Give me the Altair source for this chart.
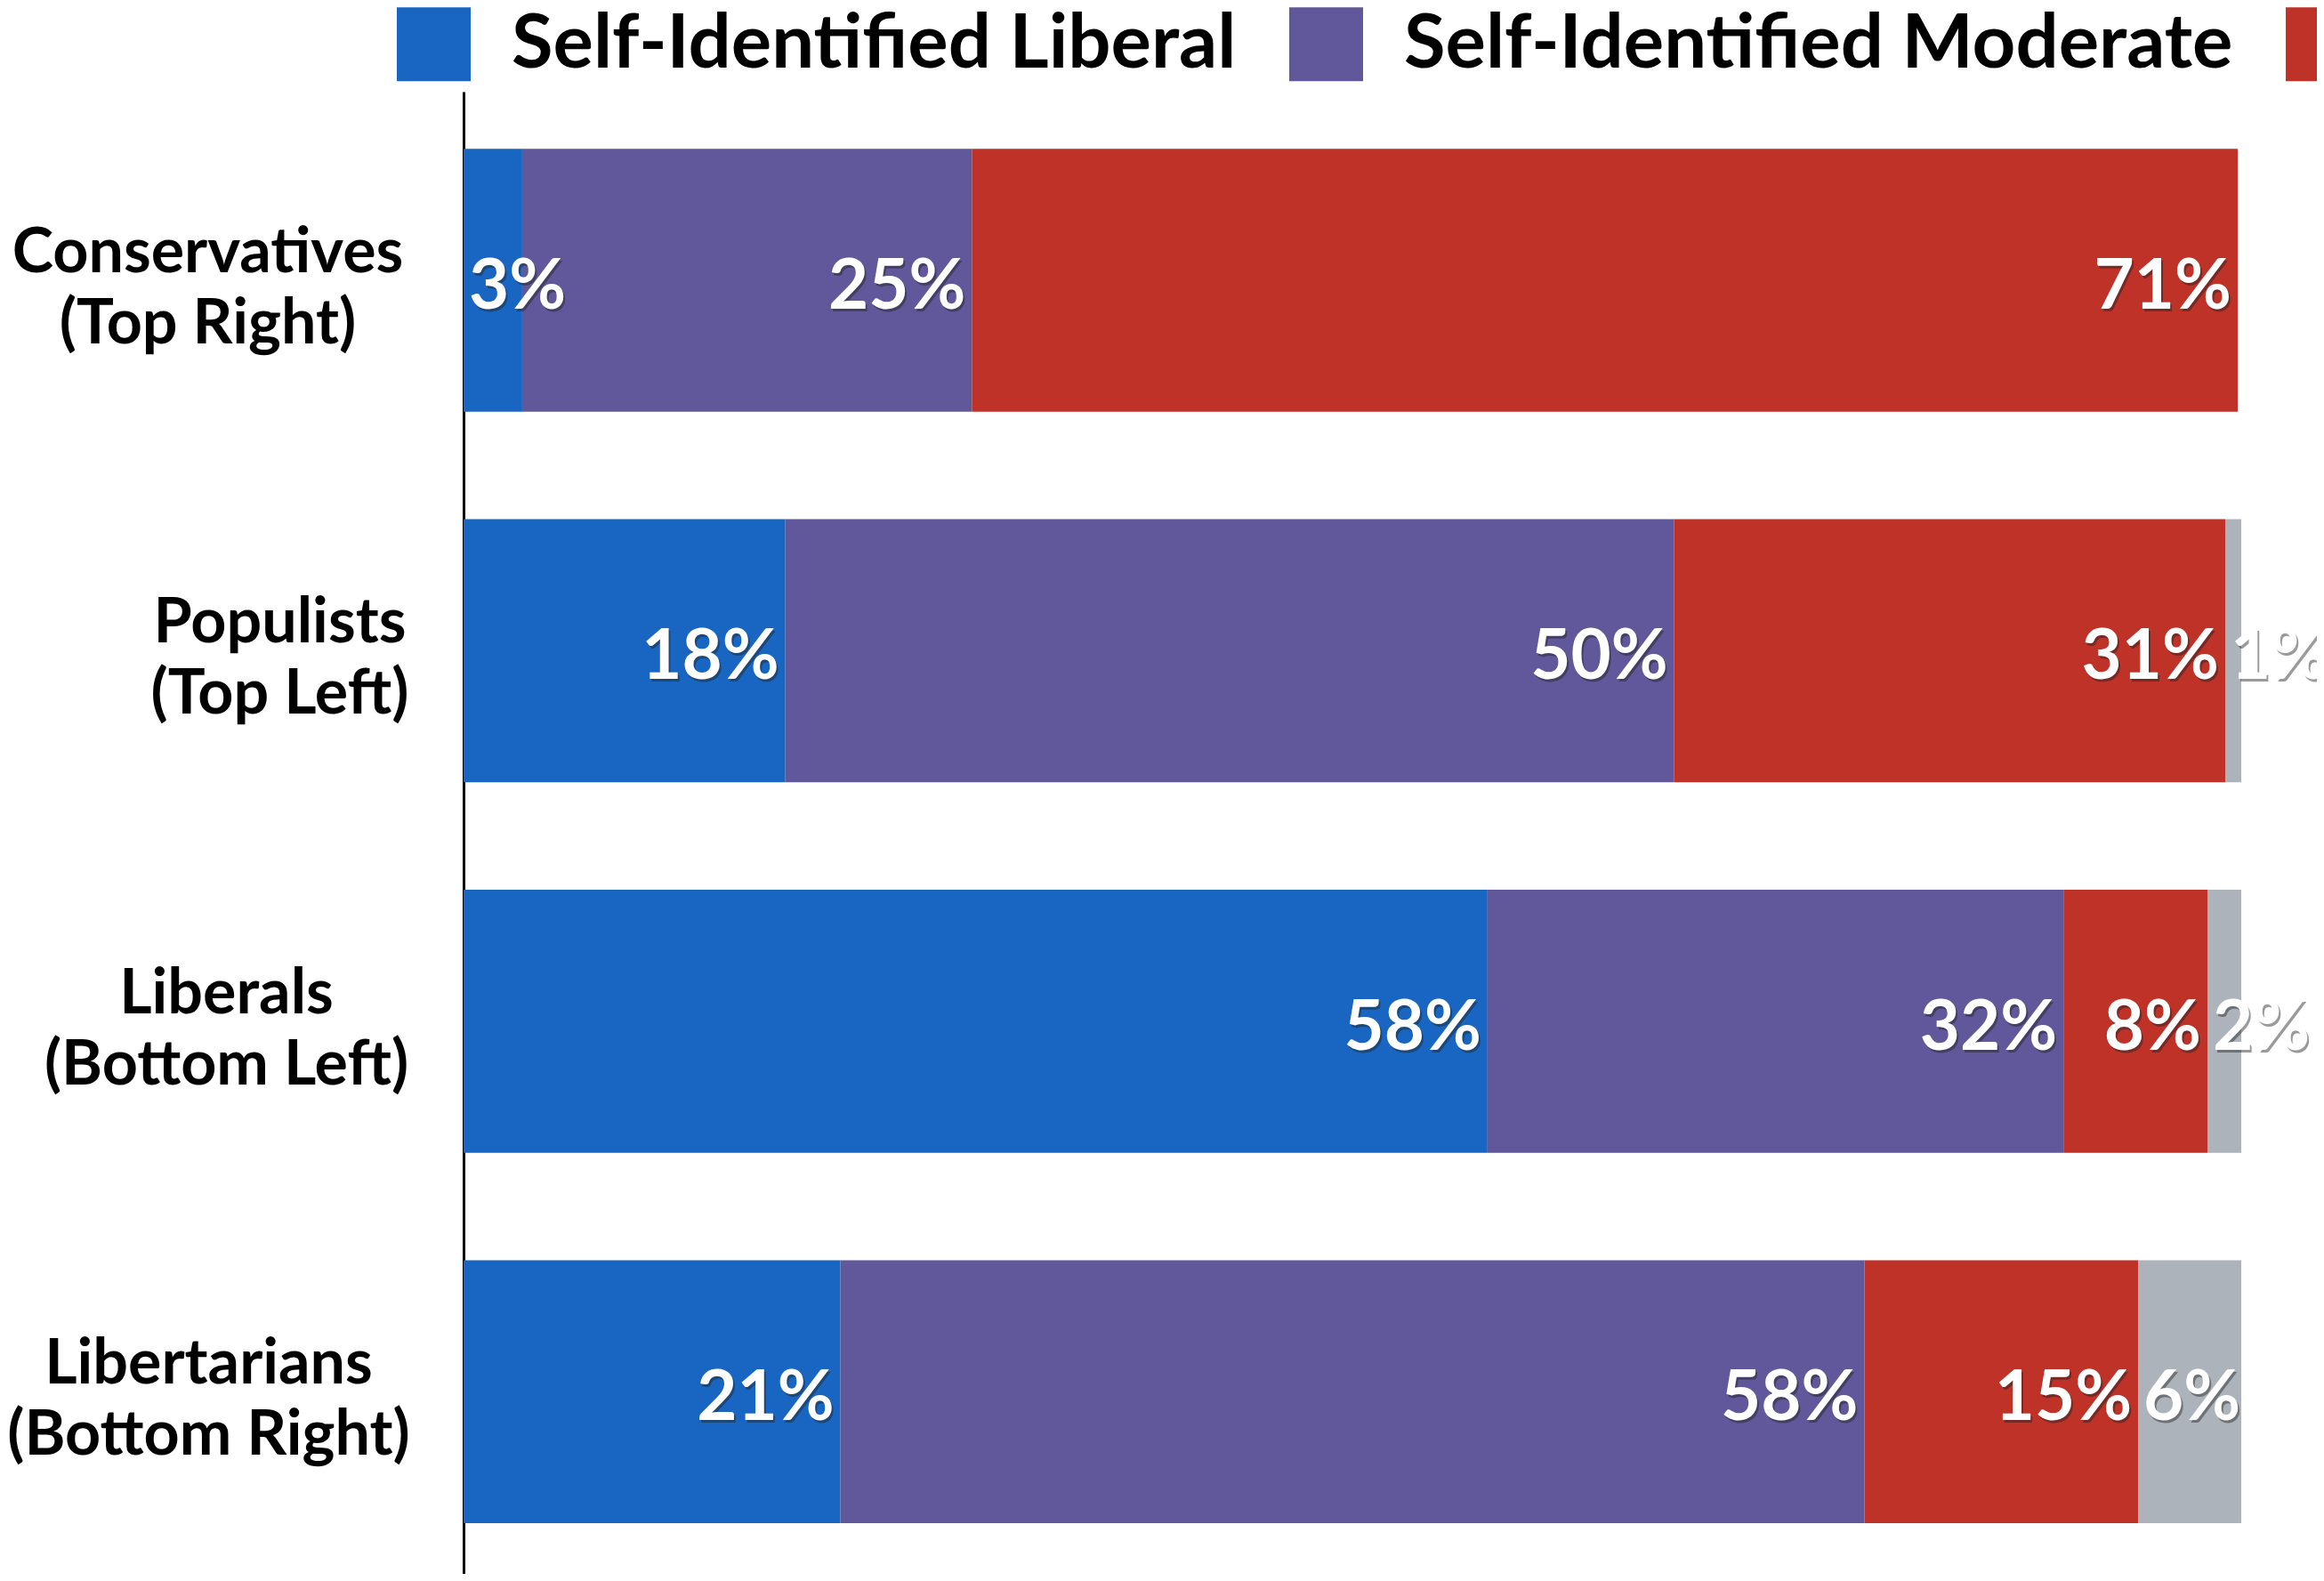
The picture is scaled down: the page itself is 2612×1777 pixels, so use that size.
import altair as alt
import pandas as pd

groups = ["Conservatives|(Top Right)", "Populists|(Top Left)",
          "Liberals|(Bottom Left)", "Libertarians|(Bottom Right)"]
series = ["Self-Identified Liberal", "Self-Identified Moderate",
          "Self-Identified Conservative", "Other"]
colors = ["#1866C2", "#60589A", "#BF3228", "#ADB3BB"]

liberal = [3.3, 18.1, 57.6, 21.2]
moderate = [25.3, 50.0, 32.4, 57.6]
conservative = [71.2, 31.0, 8.1, 15.4]
other = [0.0, 0.9, 1.9, 5.8]

rows = []
for gi, g in enumerate(groups):
    for si, (s, vals) in enumerate(zip(series, [liberal, moderate, conservative, other])):
        rows.append({"group": g, "series": s, "order": si, "value": vals[gi]})
df = pd.DataFrame(rows)

FONT = "Lato"

base = alt.Chart(df).transform_stack(
    stack="value", groupby=["group"], as_=["x0", "x1"],
    sort=[alt.SortField("order", order="ascending")]
).transform_calculate(
    label="format(datum.value, '.0f') + '%'"
)

label_pad = alt.expr(
    "datum.value == 'Conservatives|(Top Right)' ? 288 : "
    "datum.value == 'Populists|(Top Left)' ? 207 : "
    "datum.value == 'Liberals|(Bottom Left)' ? 267 : 287"
)

yenc = alt.Y("group:N", sort=groups, title=None,
             scale=alt.Scale(paddingInner=0.29, paddingOuter=0.1453, align=0.53),
             axis=alt.Axis(labelExpr="split(datum.label, '|')",
                           labelFont=FONT, labelFontWeight="bold", labelFontSize=70,
                           labelColor="black", labelLineHeight=80,
                           labelAlign="center", labelBaseline="middle",
                           labelPadding=label_pad, labelOffset=-30,
                           ticks=False, tickSize=0,
                           domainColor="black", domainWidth=3, labelLimit=0))

bars = base.mark_bar().encode(
    x=alt.X("x0:Q", scale=alt.Scale(domain=[0, 100], nice=False), axis=None),
    x2="x1:Q",
    y=yenc,
    color=alt.Color("series:N", sort=series,
                    scale=alt.Scale(domain=series, range=colors),
                    legend=alt.Legend(orient="none", direction="horizontal",
                                      legendX=-76, legendY=-96, title=None,
                                      symbolType="square", symbolSize=6889,
                                      symbolStrokeWidth=0, symbolOpacity=1,
                                      labelFont=FONT, labelFontWeight="bold",
                                      labelFontSize=85, labelColor="black",
                                      labelBaseline="middle",
                                      labelOffset=45, columnPadding=58,
                                      padding=0, labelLimit=0)),
)

def label_layer(field, align, dx, filt, color, opacity=1.0, ddx=0, ddy=0):
    return base.transform_filter(filt).mark_text(
        align=align, baseline="middle", dx=dx + ddx, dy=9 + ddy,
        font=FONT, fontWeight="bold", fontSize=78, color=color, opacity=opacity
    ).encode(
        x=alt.X(f"{field}:Q", scale=alt.Scale(domain=[0, 100], nice=False), axis=None),
        y=alt.Y("group:N", sort=groups),
        text="label:N",
    )

inside = "datum.value >= 6.5"
outside = "datum.value >= 0.5 && datum.value < 6.5"

layers = [bars]
for (c, o, ox, oy) in [("#222222", 0.45, 2, 3), ("white", 1.0, 0, 0)]:
    layers.append(label_layer("x1", "right", -7, inside, c, o, ox, oy))
    layers.append(label_layer("x0", "left", 6, outside, c, o, ox, oy))

chart = alt.layer(*layers).properties(
    width=1998, height=1666,
    padding={"left": 513, "top": 95, "right": 85, "bottom": 0},
    autosize=alt.AutoSizeParams(type="none"),
).configure_view(stroke=None)

chart.save("out.html", embed_options={"renderer": "svg", "actions": False})
